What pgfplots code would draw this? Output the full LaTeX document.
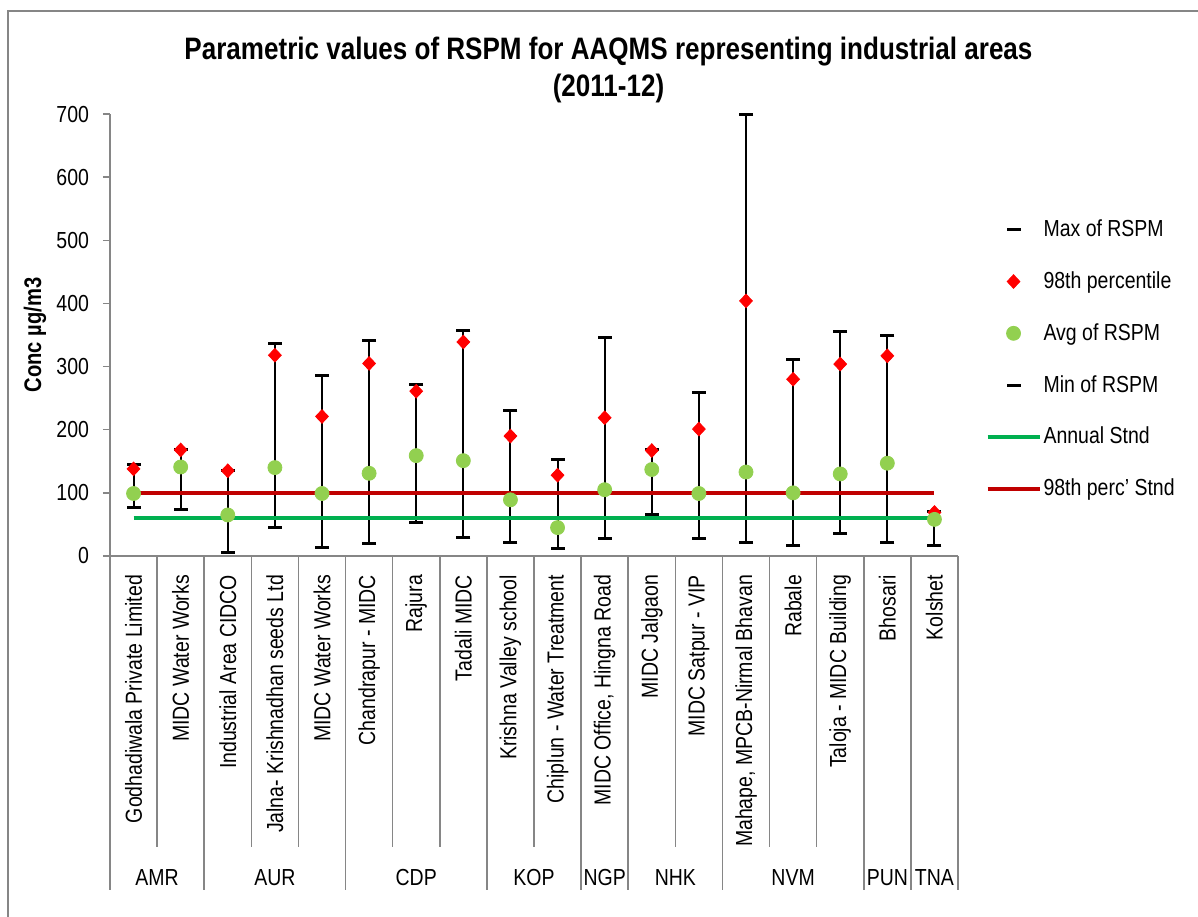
\documentclass[border=0pt]{standalone}
\usepackage{fontspec}
\setmainfont{Liberation Sans}[FakeStretch=0.84]
\usepackage{pgfplots}
\usepackage{pgfplotstable}
\pgfplotsset{compat=1.18}
\definecolor{axgray}{HTML}{868686}
\definecolor{avggreen}{HTML}{92D050}
\definecolor{stdgreen}{HTML}{00B050}
\definecolor{stdred}{HTML}{C00000}
\definecolor{dred}{HTML}{FF0000}

\pgfplotstableread{
idx min max pct avg
0 77 145 138 99
1 74 169 168 141
2 6 136 135 65
3 45 337 318 140
4 14 286 221 99
5 20 342 305 131
6 53 272 261 159
7 30 357 339 151
8 22 230 190 89
9 12 153 128 45
10 28 346 219 105
11 65 169 167 137
12 28 259 201 99
13 22 700 404 133
14 17 312 280 100
15 36 355 304 130
16 22 350 317 147
17 16 70 69 58
}\data

\pgfplotstableread{
x y
0 60
17 60
}\annual
\pgfplotstableread{
x y
0 100
17 100
}\pctstd

\newcommand{\nf}{\fontsize{11.6}{13}\selectfont}

\begin{document}
\begin{tikzpicture}[font=\nf]
\useasboundingbox (-55pt,-180pt) rectangle (544pt,278pt);
\draw[axgray, line width=1pt] (-51pt,-185pt) -- (-51pt,272.5pt) -- (550pt,272.5pt);
\begin{axis}[
  scale only axis, width=424pt, height=221pt,
  xmin=-0.5, xmax=17.5, ymin=0, ymax=700,
  axis x line*=bottom, axis y line*=left,
  axis line style={axgray, line width=0.75pt, -},
  ytick={0,100,...,700},
  ytick style={axgray, line width=0.75pt},
  tick align=outside, major tick length=3.5pt,
  xtick={0,...,17},
  xtick style={draw=none},
  xticklabels={Godhadiwala Private Limited, MIDC Water Works, Industrial Area CIDCO, Jalna- Krishnadhan seeds Ltd, MIDC Water Works, Chandrapur - MIDC, Rajura, Tadali MIDC, Krishna Valley school, Chiplun - Water Treatment, {MIDC Office, Hingna Road}, MIDC Jalgaon, MIDC Satpur - VIP, {Mahape, MPCB-Nirmal Bhavan}, Rabale, Taloja - MIDC Building, Bhosari, Kolshet},
  xticklabel style={rotate=90, anchor=east, font=\nf, xshift=-2.5pt},
  yticklabel style={font=\nf, xshift=-3.5pt},
  /pgf/number format/assume math mode=true,
  ylabel={Conc µg/m3},
  every axis y label/.style={at={(axis description cs:-0.0885,0.5)}, rotate=90, anchor=center, font=\fontsize{12}{14}\selectfont\bfseries},
  clip=false,
  legend style={at={(1.032,0.766)}, anchor=north west, draw=none, fill=none, font=\nf, row sep=14pt, inner sep=0pt, nodes={inner sep=1pt}},
  legend cell align=left,
  legend image code/.code={\draw[mark repeat=2,mark phase=2,#1] plot coordinates {(0pt,0pt) (13pt,0pt) (26pt,0pt)};},
]
% high-low lines
\addplot[forget plot, only marks, mark=*, mark size=0pt, mark options={draw=none, fill=none},
  error bars/.cd, y dir=plus, y explicit, error mark=none,
  error bar style={draw=black, line width=1pt, solid}]
  table[x=idx, y=min, y error expr=\thisrow{max}-\thisrow{min}] {\data};
% standards (drawn behind markers)
\addplot[forget plot, stdgreen, line width=2pt] table[x=x,y=y] {\annual};
\addplot[forget plot, stdred, line width=2pt] table[x=x,y=y] {\pctstd};
% markers
\addplot[only marks, mark=-, mark size=3.5pt, mark options={black, line width=1.5pt}] table[x=idx,y=max] {\data};
\addlegendentry{Max of RSPM}
\addplot[only marks, mark=diamond*, mark size=3.4pt, mark options={fill=dred, draw=dred, xscale=1.25}] table[x=idx,y=pct] {\data};
\addlegendentry{98th percentile}
\addplot[only marks, mark=*, mark size=3.5pt, mark options={fill=avggreen, draw=avggreen}] table[x=idx,y=avg] {\data};
\addlegendentry{Avg of RSPM}
\addplot[only marks, mark=-, mark size=3.5pt, mark options={black, line width=1.5pt}] table[x=idx,y=min] {\data};
\addlegendentry{Min of RSPM}
\addlegendimage{stdgreen, line width=2pt}
\addlegendentry{Annual Stnd}
\addlegendimage{stdred, line width=2pt}
\addlegendentry{98th perc' Stnd}
\end{axis}
% category separators
\foreach \j in {1,3,4,6,7,9,12,14,15} {
  \draw[axgray, line width=0.75pt] ({\j*23.5556pt},0pt) -- ({\j*23.5556pt},-145.5pt);
}
\foreach \j in {0,2,5,8,10,11,13,16,17,18} {
  \draw[axgray, line width=0.75pt] ({\j*23.5556pt},0pt) -- ({\j*23.5556pt},-167pt);
}
% group labels
\foreach \c/\t in {1/AMR, 3.5/AUR, 6.5/CDP, 9/KOP, 10.5/NGP, 12/NHK, 14.5/NVM, 16.5/PUN, 17.5/TNA} {
  \node[anchor=center, inner sep=0pt] at ({\c*23.5556pt},-161pt) {\t};
}
% title
\node[anchor=base, inner sep=0pt, font=\fontsize{15.5}{18}\selectfont\bfseries] at (249.25pt,248pt) {Parametric values of RSPM for AAQMS representing industrial areas};
\node[anchor=base, inner sep=0pt, font=\fontsize{15.5}{18}\selectfont\bfseries] at (249.25pt,229.5pt) {(2011-12)};
\end{tikzpicture}
\end{document}
